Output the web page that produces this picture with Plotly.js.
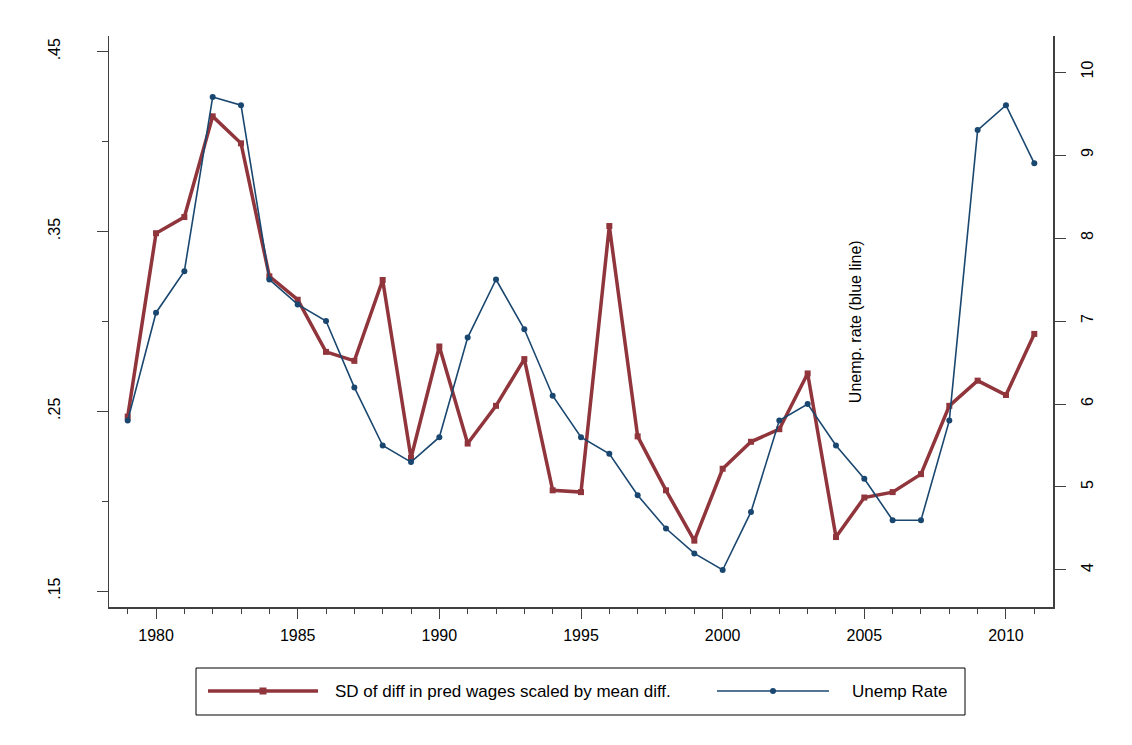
<!DOCTYPE html>
<html>
<head>
<meta charset="utf-8">
<script src="https://cdn.plot.ly/plotly-3.0.1.min.js"></script>
<style>
  html, body { margin: 0; padding: 0; background: #fff; }
  #chart { width: 1132px; height: 745px; }
</style>
</head>
<body>
<div id="chart"></div>
<script>
const years = [1979,1980,1981,1982,1983,1984,1985,1986,1987,1988,1989,1990,1991,1992,1993,1994,1995,1996,1997,1998,1999,2000,2001,2002,2003,2004,2005,2006,2007,2008,2009,2010,2011];
const sdDiff = [0.247,0.349,0.358,0.414,0.399,0.325,0.312,0.283,0.278,0.323,0.224,0.286,0.232,0.253,0.279,0.206,0.205,0.353,0.236,0.206,0.178,0.218,0.233,0.240,0.271,0.180,0.202,0.205,0.215,0.253,0.267,0.259,0.293];
const unempRate = [5.8,7.1,7.6,9.7,9.6,7.5,7.2,7.0,6.2,5.5,5.3,5.6,6.8,7.5,6.9,6.1,5.6,5.4,4.9,4.5,4.2,4.0,4.7,5.8,6.0,5.5,5.1,4.6,4.6,5.8,9.3,9.6,8.9];
const seriesNames = ["SD of diff in pred wages scaled by mean diff.", "Unemp Rate"];
const leftTicks = [0.15,0.25,0.35,0.45];
const leftTickText = [".15",".25",".35",".45"];
const rightTicks = [4,5,6,7,8,9,10];
const xTicks = [1980,1985,1990,1995,2000,2005,2010];
const noteText = "Unemp. rate (blue line)";

const red = "rgb(144,53,59)";
const navy = "rgb(26,71,111)";
const axisCol = "#404040";
const font = {family: "Liberation Sans, Arial, sans-serif", size: 16, color: "#000"};
const legFont = {family: "Liberation Sans, Arial, sans-serif", size: 17, color: "#000"};

const traces = [
  {x: years, y: sdDiff, name: seriesNames[0], type: "scatter", mode: "lines+markers",
   line: {color: red, width: 3.5}, marker: {color: red, symbol: "square", size: 6}, yaxis: "y"},
  {x: years, y: unempRate, name: seriesNames[1], type: "scatter", mode: "lines+markers",
   line: {color: navy, width: 1.6}, marker: {color: navy, symbol: "circle", size: 6}, yaxis: "y2"}
];

// legend drawn in paper coordinates (plot area: 944 x 571 px)
const PW = 944, PH = 571;
const px = v => (v - 109) / PW;
const py = v => (607 - v) / PH;
const legY = py(691);
const shapes = [
  {type: "rect", xref: "paper", yref: "paper", x0: px(196), x1: px(965), y0: py(715), y1: py(668),
   line: {color: "#000", width: 1}, fillcolor: "#fff", layer: "below"},
  {type: "line", xref: "paper", yref: "paper", x0: px(208), x1: px(318), y0: legY, y1: legY,
   line: {color: red, width: 3.5}},
  {type: "rect", xref: "paper", yref: "paper", x0: px(259.5), x1: px(266.5), y0: py(694.5), y1: py(687.5),
   line: {width: 0}, fillcolor: red},
  {type: "line", xref: "paper", yref: "paper", x0: px(717), x1: px(829), y0: legY, y1: legY,
   line: {color: navy, width: 1.6}},
  {type: "circle", xref: "paper", yref: "paper", x0: px(770), x1: px(776), y0: py(694), y1: py(688),
   line: {width: 0}, fillcolor: navy}
];

const layout = {
  width: 1132, height: 745,
  margin: {l: 109, r: 79, t: 36, b: 138},
  paper_bgcolor: "#fff", plot_bgcolor: "#fff",
  font: font,
  showlegend: false,
  xaxis: {range: [1978.34, 2011.66], tickvals: xTicks, ticks: "outside", ticklen: 10, tickcolor: axisCol,
          showgrid: false, zeroline: false, showline: true, linecolor: axisCol, linewidth: 1.5,
          minor: {dtick: 1, tick0: 1979, ticks: "outside", ticklen: 5, tickcolor: axisCol, showgrid: false},
          tickfont: font, ticklabelstandoff: 3},
  yaxis: {range: [0.1411, 0.4587], tickvals: leftTicks, ticktext: leftTickText, ticks: "outside", ticklen: 11,
          tickcolor: axisCol, tickangle: -90, showgrid: false, zeroline: false, showline: true,
          linecolor: axisCol, linewidth: 1.5, tickfont: font, ticklabelstandoff: 30,
          minor: {dtick: 0.05, tick0: 0.15, ticks: "outside", ticklen: 6, tickcolor: axisCol, showgrid: false}},
  yaxis2: {range: [3.554, 10.434], tickvals: rightTicks, overlaying: "y", side: "right", ticks: "outside",
           ticklen: 11, tickcolor: axisCol, tickangle: -90, showgrid: false, zeroline: false, showline: true,
           linecolor: axisCol, linewidth: 1.5, tickfont: font, ticklabelstandoff: 8},
  shapes: shapes,
  annotations: [
    {x: 2004.7, y: 0.300, xref: "x", yref: "y", text: noteText, showarrow: false, textangle: -90,
     font: font},
    {x: px(333), y: legY, xref: "paper", yref: "paper", xanchor: "left", yanchor: "middle",
     text: seriesNames[0], showarrow: false, font: legFont},
    {x: px(850), y: legY, xref: "paper", yref: "paper", xanchor: "left", yanchor: "middle",
     text: seriesNames[1], showarrow: false, font: legFont}
  ]
};

Plotly.newPlot("chart", traces, layout, {displayModeBar: false, staticPlot: true});
</script>
</body>
</html>
